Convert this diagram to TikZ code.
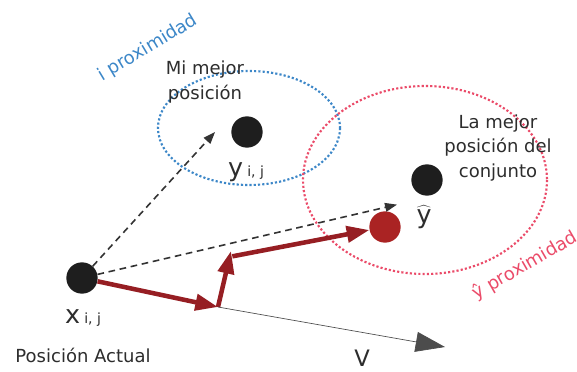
\documentclass[tikz,border=0pt]{standalone}
\usepackage{fontspec}
\setmainfont{DejaVu Sans}
\usetikzlibrary{arrows.meta}
\definecolor{proxblue}{RGB}{60,135,200}
\definecolor{proxred}{RGB}{235,75,105}
\definecolor{movered}{RGB}{150,30,35}
\definecolor{dotred}{RGB}{170,35,35}
\definecolor{dotblack}{RGB}{30,30,30}
\definecolor{txt}{RGB}{45,45,45}
\tikzset{
  dot/.style={circle,fill=#1,minimum size=23.5pt,inner sep=0pt},
  lbl/.style={text=txt,font=\fontsize{13.5}{18.5}\selectfont,align=center,inner sep=0pt},
  big/.style={text=txt,font=\fontsize{19}{20}\selectfont,inner sep=0pt},
  prox/.style={line width=1.6pt,dash pattern=on 1.6pt off 1.6pt},
  guess/.style={dashed,dash pattern=on 5pt off 3.5pt,line width=1.2pt,draw=black!80,
     -{Triangle[length=9pt,width=6.5pt]}},
  move/.style={line width=3.4pt,draw=movered,-{Triangle[length=17pt,width=12pt]}},
}
\begin{document}
\begin{tikzpicture}[x=0.75pt,y=-0.75pt]
\useasboundingbox (0,0) rectangle (577,371);
\clip (0,0) rectangle (577,371);
\fill[white] (0,0) rectangle (577,371);
% proximity ellipses
\draw[prox,draw=proxblue] (249,128) ellipse[x radius=91,y radius=57];
\draw[prox,draw=proxred] (425,180) ellipse[x radius=122,y radius=94];
% dots
\node[dot=dotblack] (xd) at (82,278) {};
\node[dot=dotblack] (yd) at (247,132) {};
\node[dot=dotblack] (yh) at (427,180) {};
\node[dot=dotred] (rd) at (385,227) {};
\coordinate (c1) at (218,307);
\coordinate (c2) at (231,251);
\coordinate (vend) at (445,347);
% labels
\node[big] (xl) at (83,318) {x\,{\fontsize{10.5}{12}\selectfont i, j}};
\node[lbl,anchor=base] (pa) at (83,362) {Posición Actual};
\node[big] (yl) at (246,172) {y\,{\fontsize{10.5}{12}\selectfont i, j}};
\node[lbl] (mm) at (205,82) {Mi mejor\\posición};
\node[big] (yhl) at (424,217) {\(\widehat{\mbox{y}}\)};
\node[lbl] (lm) at (498,148) {La mejor\\posición del\\conjunto};
\node[big,font=\fontsize{17}{18}\selectfont,anchor=base] (vl) at (362,366) {V};
\node[lbl,text=proxblue,rotate=31] (bp) at (148,48) {i proximidad};
\node[lbl,text=proxred,rotate=30,anchor=west] (rp) at (474,295) {ŷ proximidad};
% connectors
\draw[guess] (xd) -- ([xshift=-12pt]yd.west);
\draw[guess] (xd) -- ([xshift=-14pt,yshift=-10pt]yh.south west);
\draw[move] (xd) -- (c1);
\draw[move] (c1) -- (c2);
\draw[move] ([shift={(1pt,-4pt)}]c2) -- (rd);
\draw[line width=0.5pt,draw=black!70,-{Triangle[length=22pt,width=15pt]}] (c1) -- (vend);
\end{tikzpicture}
\end{document}
